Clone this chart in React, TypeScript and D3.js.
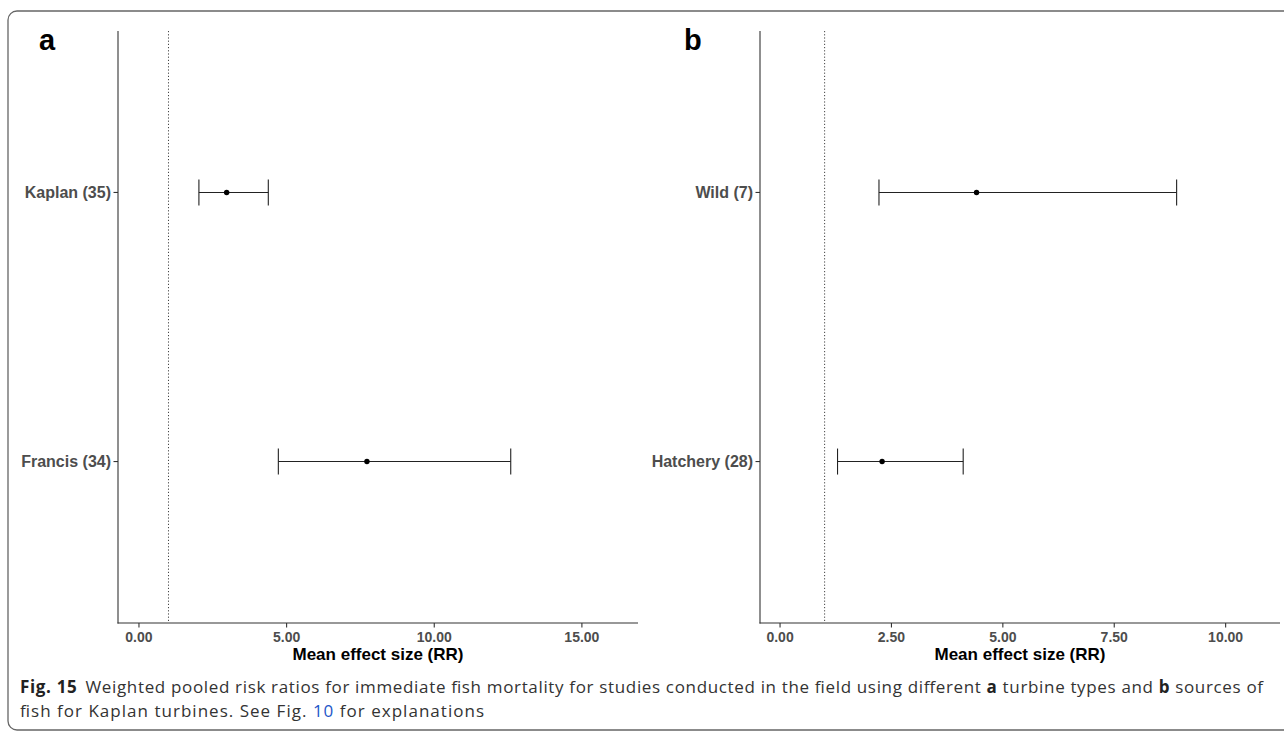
import React from "react";
import * as d3 from "d3";

// ---- Data ----
const turbineTypes = ["Kaplan (35)", "Francis (34)"];
const turbineMean = [2.97, 7.72];
const turbineLower = [2.03, 4.72];
const turbineUpper = [4.38, 12.59];
const turbineTicks = [0, 5, 10, 15];

const fishSources = ["Wild (7)", "Hatchery (28)"];
const sourceMean = [4.41, 2.29];
const sourceLower = [2.22, 1.29];
const sourceUpper = [8.9, 4.11];
const sourceTicks = [0, 2.5, 5, 7.5, 10];

const referenceLine = 1;
const xTitle = "Mean effect size (RR)";

const W = 1284;
const H = 733;
const AX = "'Liberation Sans', Arial, Helvetica, sans-serif";
const CAP = "'Open Sans', 'Noto Sans', sans-serif";

type PanelProps = {
  letter: string;
  cats: string[];
  mean: number[];
  lower: number[];
  upper: number[];
  ticks: number[];
  domain: [number, number];
  x0: number;
  x1: number;
  letterX: number;
};

const TOP = 31;
const BOTTOM = 623;

function Panel(p: PanelProps) {
  const x = d3.scaleLinear().domain(p.domain).range([p.x0, p.x1]);
  const y = d3.scalePoint<string>().domain(p.cats).range([TOP, BOTTOM]).padding(0.6);
  const fmt = d3.format(".2f");
  const cap = 13;
  return (
    <g>
      <text x={p.letterX} y={50} fontFamily={AX} fontWeight="bold" fontSize={29} fill="#000">
        {p.letter}
      </text>
      {/* reference dotted line */}
      <line
        x1={x(referenceLine)}
        x2={x(referenceLine)}
        y1={TOP}
        y2={BOTTOM}
        stroke="#444"
        strokeWidth={1}
        strokeDasharray="1.2,2"
      />
      {/* axes */}
      <line x1={p.x0} x2={p.x0} y1={TOP} y2={BOTTOM + 0.5} stroke="#333" strokeWidth={1.1} />
      <line x1={p.x0 - 0.5} x2={p.x1} y1={BOTTOM} y2={BOTTOM} stroke="#333" strokeWidth={1.1} />
      {p.ticks.map((t) => (
        <g key={t}>
          <line x1={x(t)} x2={x(t)} y1={BOTTOM} y2={BOTTOM + 4.5} stroke="#333" strokeWidth={1.1} />
          <text
            x={x(t)}
            y={642}
            textAnchor="middle"
            fontFamily={AX}
            fontWeight="bold"
            fontSize={14}
            fill="#4d4d4d"
          >
            {fmt(t)}
          </text>
        </g>
      ))}
      {p.cats.map((c) => (
        <g key={c}>
          <line x1={p.x0 - 4.5} x2={p.x0} y1={y(c)} y2={y(c)} stroke="#333" strokeWidth={1.1} />
          <text
            x={p.x0 - 7}
            y={(y(c) as number) + 5.6}
            textAnchor="end"
            fontFamily={AX}
            fontWeight="bold"
            fontSize={16}
            fill="#4d4d4d"
          >
            {c}
          </text>
        </g>
      ))}
      {p.cats.map((c, i) => {
        const yy = y(c) as number;
        return (
          <g key={"e" + c}>
            <line x1={x(p.lower[i])} x2={x(p.upper[i])} y1={yy} y2={yy} stroke="#222" strokeWidth={1.1} />
            <line x1={x(p.lower[i])} x2={x(p.lower[i])} y1={yy - cap} y2={yy + cap} stroke="#222" strokeWidth={1.1} />
            <line x1={x(p.upper[i])} x2={x(p.upper[i])} y1={yy - cap} y2={yy + cap} stroke="#222" strokeWidth={1.1} />
            <circle cx={x(p.mean[i])} cy={yy} r={2.7} fill="#000" />
          </g>
        );
      })}
      <text
        x={(p.x0 + p.x1) / 2}
        y={660}
        textAnchor="middle"
        fontFamily={AX}
        fontWeight="bold"
        fontSize={17}
        fill="#000"
      >
        {xTitle}
      </text>
    </g>
  );
}

export default function App() {
  return (
    <svg width={W} height={H} style={{ position: "absolute", left: 0, top: 0, background: "#fff" }}>
      <rect x={0} y={0} width={W} height={H} fill="#fff" />
      <rect x={8} y={11} width={1400} height={719} rx={9} ry={9} fill="none" stroke="#666" strokeWidth={1.3} />
      <Panel
        letter="a"
        cats={turbineTypes}
        mean={turbineMean}
        lower={turbineLower}
        upper={turbineUpper}
        ticks={turbineTicks}
        domain={[-0.71, 16.9]}
        x0={118}
        x1={638}
        letterX={39}
      />
      <Panel
        letter="b"
        cats={fishSources}
        mean={sourceMean}
        lower={sourceLower}
        upper={sourceUpper}
        ticks={sourceTicks}
        domain={[-0.45, 11.22]}
        x0={760}
        x1={1280}
        letterX={684}
      />
      <text x={20} y={693} fontFamily={CAP} fontSize={17} fill="#333" textLength={1243} lengthAdjust="spacing">
        <tspan fontWeight="bold" fill="#222">Fig. 15</tspan>
        <tspan dx={8}>
          Weighted pooled risk ratios for immediate fish mortality for studies conducted in the field using different{" "}
        </tspan>
        <tspan fontWeight="bold" fill="#222">a</tspan>
        <tspan> turbine types and </tspan>
        <tspan fontWeight="bold" fill="#222">b</tspan>
        <tspan> sources of</tspan>
      </text>
      <text x={20} y={717} fontFamily={CAP} fontSize={17} fill="#333" textLength={464} lengthAdjust="spacing">
        <tspan>fish for Kaplan turbines. See Fig. </tspan>
        <tspan fill="#2456c8">10</tspan>
        <tspan> for explanations</tspan>
      </text>
    </svg>
  );
}
